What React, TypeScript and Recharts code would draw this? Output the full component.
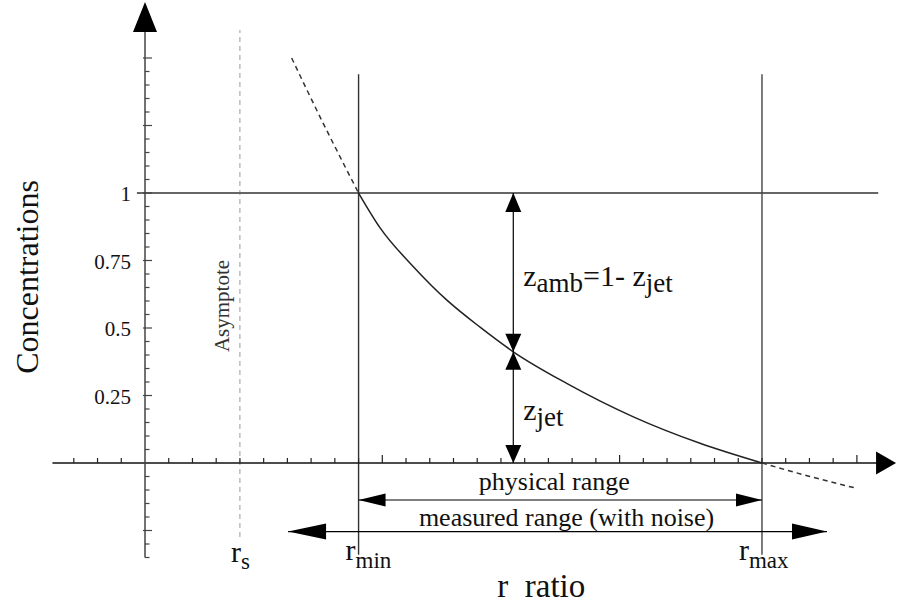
import React from 'react';
import { LineChart, Line, XAxis, YAxis, ReferenceLine, ReferenceDot } from 'recharts';

// ---- data (in r-ratio units on x, concentration on y) ----
const R_TICKS = [-3, -2, -1, 1, 2, 3, 4, 5, 6, 7, 8, 9, 10, 11, 12, 13, 14, 15, 16, 17, 18, 19, 20, 21, 22, 23, 24, 25, 26, 27, 28, 29, 30];
const C_TICKS = [-0.35, -0.3, -0.25, -0.2, -0.15, -0.1, -0.05, 0.05, 0.1, 0.15, 0.2, 0.25, 0.3, 0.35, 0.4, 0.45, 0.5, 0.55, 0.6, 0.65, 0.7, 0.75, 0.8, 0.85, 0.9, 0.95, 1, 1.05, 1.1, 1.15, 1.2, 1.25, 1.3, 1.35, 1.4, 1.45, 1.5];
const C_LABELS = [0.25, 0.5, 0.75, 1];
const C_MAJOR = [-0.25, 0.25, 0.5, 0.75, 1, 1.25, 1.5];
const R_MAJOR = [10, 20, 30];

const R_S = 4;
const R_MIN = 9;
const R_MAX = 26;
const C_ONE = 1;

const curveUpper = [
  { r: 6.18, c: 1.5 },
  { r: 7.51, c: 1.258 },
  { r: 8.22, c: 1.134 },
  { r: 9, c: 1 },
];
const curveSolid = [
  { r: 9, c: 1 },
  { r: 9.9, c: 0.872 },
  { r: 11.31, c: 0.727 },
  { r: 12.71, c: 0.604 },
  { r: 14.12, c: 0.503 },
  { r: 15.52, c: 0.412 },
  { r: 17.77, c: 0.295 },
  { r: 20.58, c: 0.171 },
  { r: 23.39, c: 0.073 },
  { r: 26, c: 0 },
];
const curveLower = [
  { r: 26, c: 0 },
  { r: 28.02, c: -0.05 },
  { r: 30, c: -0.094 },
];
const Z_POINT = curveSolid[5];

const PHYSICAL = { label: 'physical range', from: 9, to: 26, level: -0.137 };
const MEASURED = { label: 'measured range (with noise)', from: 6.03, to: 28.74, level: -0.254 };

const X_AXIS_EXTENT = [-3.9, 30.9];
const X_ARROW_TIP = 31.65;
const Y_AXIS_EXTENT = [-0.35, 1.596];
const Y_ARROW_TIP = 1.707;
const ASYM_EXTENT = [-0.274, 1.604];
const VLINE_EXTENT = [-0.34, 1.44];
const ONE_LINE_EXTENT = [-0.34, 30.9];

// ---- layout ----
const W = 899;
const H = 603;
const X_DOMAIN = [-4, 31.7];
const Y_DOMAIN = [-0.4, 1.7];
const FONT = '"Liberation Serif", "Times New Roman", serif';

type P = { cx?: number; cy?: number };

const hTick = (len: number, left: number, color: string) => (p: P) => (
  <line x1={(p.cx as number) - left} x2={(p.cx as number) + len} y1={p.cy} y2={p.cy} stroke={color} strokeWidth={1.2} />
);
const vTick = (len: number) => (p: P) => (
  <line x1={p.cx} x2={p.cx} y1={p.cy} y2={(p.cy as number) - len} stroke="#222" strokeWidth={1.2} />
);

const head = (dir: 'up' | 'down' | 'left' | 'right', L: number, Wd: number) => (p: P) => {
  const cx = p.cx as number;
  const cy = p.cy as number;
  let pts = '';
  if (dir === 'up') pts = `${cx},${cy} ${cx - Wd},${cy + L} ${cx + Wd},${cy + L}`;
  if (dir === 'down') pts = `${cx},${cy} ${cx - Wd},${cy - L} ${cx + Wd},${cy - L}`;
  if (dir === 'left') pts = `${cx},${cy} ${cx + L},${cy - Wd} ${cx + L},${cy + Wd}`;
  if (dir === 'right') pts = `${cx},${cy} ${cx - L},${cy - Wd} ${cx - L},${cy + Wd}`;
  return <polygon points={pts} fill="#000" stroke="none" />;
};

const textShape = (content: React.ReactNode, dx: number, dy: number, size: number, anchor: string = 'middle', rotate = false, color = '#111') => (p: P) => {
  const x = (p.cx as number) + dx;
  const y = (p.cy as number) + dy;
  return (
    <text
      x={x}
      y={y}
      fontFamily={FONT}
      fontSize={size}
      fill={color}
      textAnchor={anchor as any}
      style={{ whiteSpace: 'pre' }}
      transform={rotate ? `rotate(-90 ${x} ${y})` : undefined}
    >
      {content}
    </text>
  );
};

export default function App() {
  return (
    <div style={{ position: 'absolute', left: 0, top: 0, background: '#fff' }}>
      <LineChart
        width={W}
        height={H}
        margin={{ left: 50.08, right: 1.76, top: 4, bottom: 32 }}
      >
        <XAxis type="number" dataKey="r" domain={X_DOMAIN} allowDataOverflow hide />
        <YAxis type="number" dataKey="c" domain={Y_DOMAIN} allowDataOverflow hide />

        {/* asymptote */}
        <ReferenceLine segment={[{ x: R_S, y: ASYM_EXTENT[0] }, { x: R_S, y: ASYM_EXTENT[1] }]} stroke="#9a9a9a" strokeWidth={1} strokeDasharray="5 4" ifOverflow="visible" />

        {/* c = 1 line */}
        <ReferenceLine segment={[{ x: ONE_LINE_EXTENT[0], y: C_ONE }, { x: ONE_LINE_EXTENT[1], y: C_ONE }]} stroke="#666" strokeWidth={2} ifOverflow="visible" />

        {/* r_min, r_max */}
        <ReferenceLine segment={[{ x: R_MIN, y: VLINE_EXTENT[0] }, { x: R_MIN, y: VLINE_EXTENT[1] }]} stroke="#333" strokeWidth={1.4} ifOverflow="visible" />
        <ReferenceLine segment={[{ x: R_MAX, y: VLINE_EXTENT[0] }, { x: R_MAX, y: VLINE_EXTENT[1] }]} stroke="#444" strokeWidth={1.4} ifOverflow="visible" />

        {/* axes */}
        <ReferenceLine segment={[{ x: X_AXIS_EXTENT[0], y: 0 }, { x: X_AXIS_EXTENT[1], y: 0 }]} stroke="#111" strokeWidth={1.5} ifOverflow="visible" />
        <ReferenceLine segment={[{ x: 0, y: Y_AXIS_EXTENT[0] }, { x: 0, y: Y_AXIS_EXTENT[1] }]} stroke="#444" strokeWidth={1.5} ifOverflow="visible" />
        <ReferenceDot x={X_ARROW_TIP} y={0} ifOverflow="visible" shape={head('right', 20, 11.5)} />
        <ReferenceDot x={0} y={Y_ARROW_TIP} ifOverflow="visible" shape={head('up', 30, 12)} />

        {R_TICKS.map((t) => (
          <ReferenceDot key={'rt' + t} x={t} y={0} ifOverflow="visible" shape={vTick(R_MAJOR.includes(t) ? 8 : 5)} />
        ))}
        {C_TICKS.map((t) => (
          <ReferenceDot key={'ct' + t} x={0} y={t} ifOverflow="visible" shape={hTick(C_MAJOR.includes(t) ? 7 : 4.5, C_MAJOR.includes(t) ? 2 : 0, '#444')} />
        ))}
        {C_LABELS.map((t) => (
          <ReferenceDot key={'cl' + t} x={0} y={t} ifOverflow="visible" shape={textShape(String(t), -14, 8, 21, 'end')} />
        ))}

        {/* curve */}
        <Line data={curveUpper} dataKey="c" type="monotone" stroke="#333" strokeWidth={1.5} strokeDasharray="5 4" dot={false} isAnimationActive={false} />
        <Line data={curveSolid} dataKey="c" type="monotone" stroke="#222" strokeWidth={1.5} dot={false} isAnimationActive={false} />
        <Line data={curveLower} dataKey="c" type="monotone" stroke="#333" strokeWidth={1.5} strokeDasharray="5 4" dot={false} isAnimationActive={false} />

        {/* z arrows */}
        <ReferenceLine segment={[{ x: Z_POINT.r, y: C_ONE }, { x: Z_POINT.r, y: 0 }]} stroke="#000" strokeWidth={1.2} ifOverflow="visible" />
        <ReferenceDot x={Z_POINT.r} y={C_ONE} ifOverflow="visible" shape={head('up', 19, 8)} />
        <ReferenceDot x={Z_POINT.r} y={Z_POINT.c} ifOverflow="visible" shape={head('down', 18, 8)} />
        <ReferenceDot x={Z_POINT.r} y={Z_POINT.c} ifOverflow="visible" shape={head('up', 18, 8)} />
        <ReferenceDot x={Z_POINT.r} y={0} ifOverflow="visible" shape={head('down', 18, 8)} />

        {/* range arrows */}
        <ReferenceLine segment={[{ x: PHYSICAL.from, y: PHYSICAL.level }, { x: PHYSICAL.to, y: PHYSICAL.level }]} stroke="#000" strokeWidth={1.2} ifOverflow="visible" />
        <ReferenceDot x={PHYSICAL.from} y={PHYSICAL.level} ifOverflow="visible" shape={head('left', 27, 6.5)} />
        <ReferenceDot x={PHYSICAL.to} y={PHYSICAL.level} ifOverflow="visible" shape={head('right', 26, 6.5)} />
        <ReferenceLine segment={[{ x: MEASURED.from, y: MEASURED.level }, { x: MEASURED.to, y: MEASURED.level }]} stroke="#000" strokeWidth={1.2} ifOverflow="visible" />
        <ReferenceDot x={MEASURED.from} y={MEASURED.level} ifOverflow="visible" shape={head('left', 38, 8)} />
        <ReferenceDot x={MEASURED.to} y={MEASURED.level} ifOverflow="visible" shape={head('right', 35, 8)} />

        {/* texts */}
        <ReferenceDot x={(PHYSICAL.from + PHYSICAL.to) / 2} y={PHYSICAL.level} ifOverflow="visible" shape={textShape(PHYSICAL.label, -6, -10, 26)} />
        <ReferenceDot x={(MEASURED.from + MEASURED.to) / 2} y={MEASURED.level} ifOverflow="visible" shape={textShape(MEASURED.label, 9, -6, 26)} />

        <ReferenceDot x={Z_POINT.r} y={(C_ONE + Z_POINT.c) / 2} ifOverflow="visible" shape={textShape(
          <>
            <tspan>z</tspan>
            <tspan dy={6} fontSize={27}>amb</tspan>
            <tspan dy={-6}>=1- z</tspan>
            <tspan dy={6} fontSize={27}>jet</tspan>
          </>, 10, 14, 30, 'start')} />
        <ReferenceDot x={Z_POINT.r} y={Z_POINT.c / 2} ifOverflow="visible" shape={textShape(
          <>
            <tspan>z</tspan>
            <tspan dy={6} fontSize={27}>jet</tspan>
          </>, 10, 13, 30, 'start')} />

        <ReferenceDot x={R_S} y={0} ifOverflow="visible" shape={textShape(
          <>
            <tspan>r</tspan>
            <tspan dy={7} fontSize={23}>s</tspan>
          </>, -9, 99, 30, 'start')} />
        <ReferenceDot x={R_MIN} y={0} ifOverflow="visible" shape={textShape(
          <>
            <tspan>r</tspan>
            <tspan dy={8} fontSize={23}>min</tspan>
          </>, -13, 97, 30, 'start')} />
        <ReferenceDot x={R_MAX} y={0} ifOverflow="visible" shape={textShape(
          <>
            <tspan>r</tspan>
            <tspan dy={8} fontSize={23}>max</tspan>
          </>, -23, 97, 30, 'start')} />

        <ReferenceDot x={(R_MIN + R_MAX) / 2} y={0} ifOverflow="visible" shape={textShape('r\u00A0\u00A0ratio', -19, 134, 33)} />
        <ReferenceDot x={0} y={0.7} ifOverflow="visible" shape={textShape('Concentrations', -107, 3, 32, 'middle', true)} />
        <ReferenceDot x={R_S} y={0.6} ifOverflow="visible" shape={textShape('Asymptote', -11, 5, 21, 'middle', true, '#333')} />
      </LineChart>
    </div>
  );
}
